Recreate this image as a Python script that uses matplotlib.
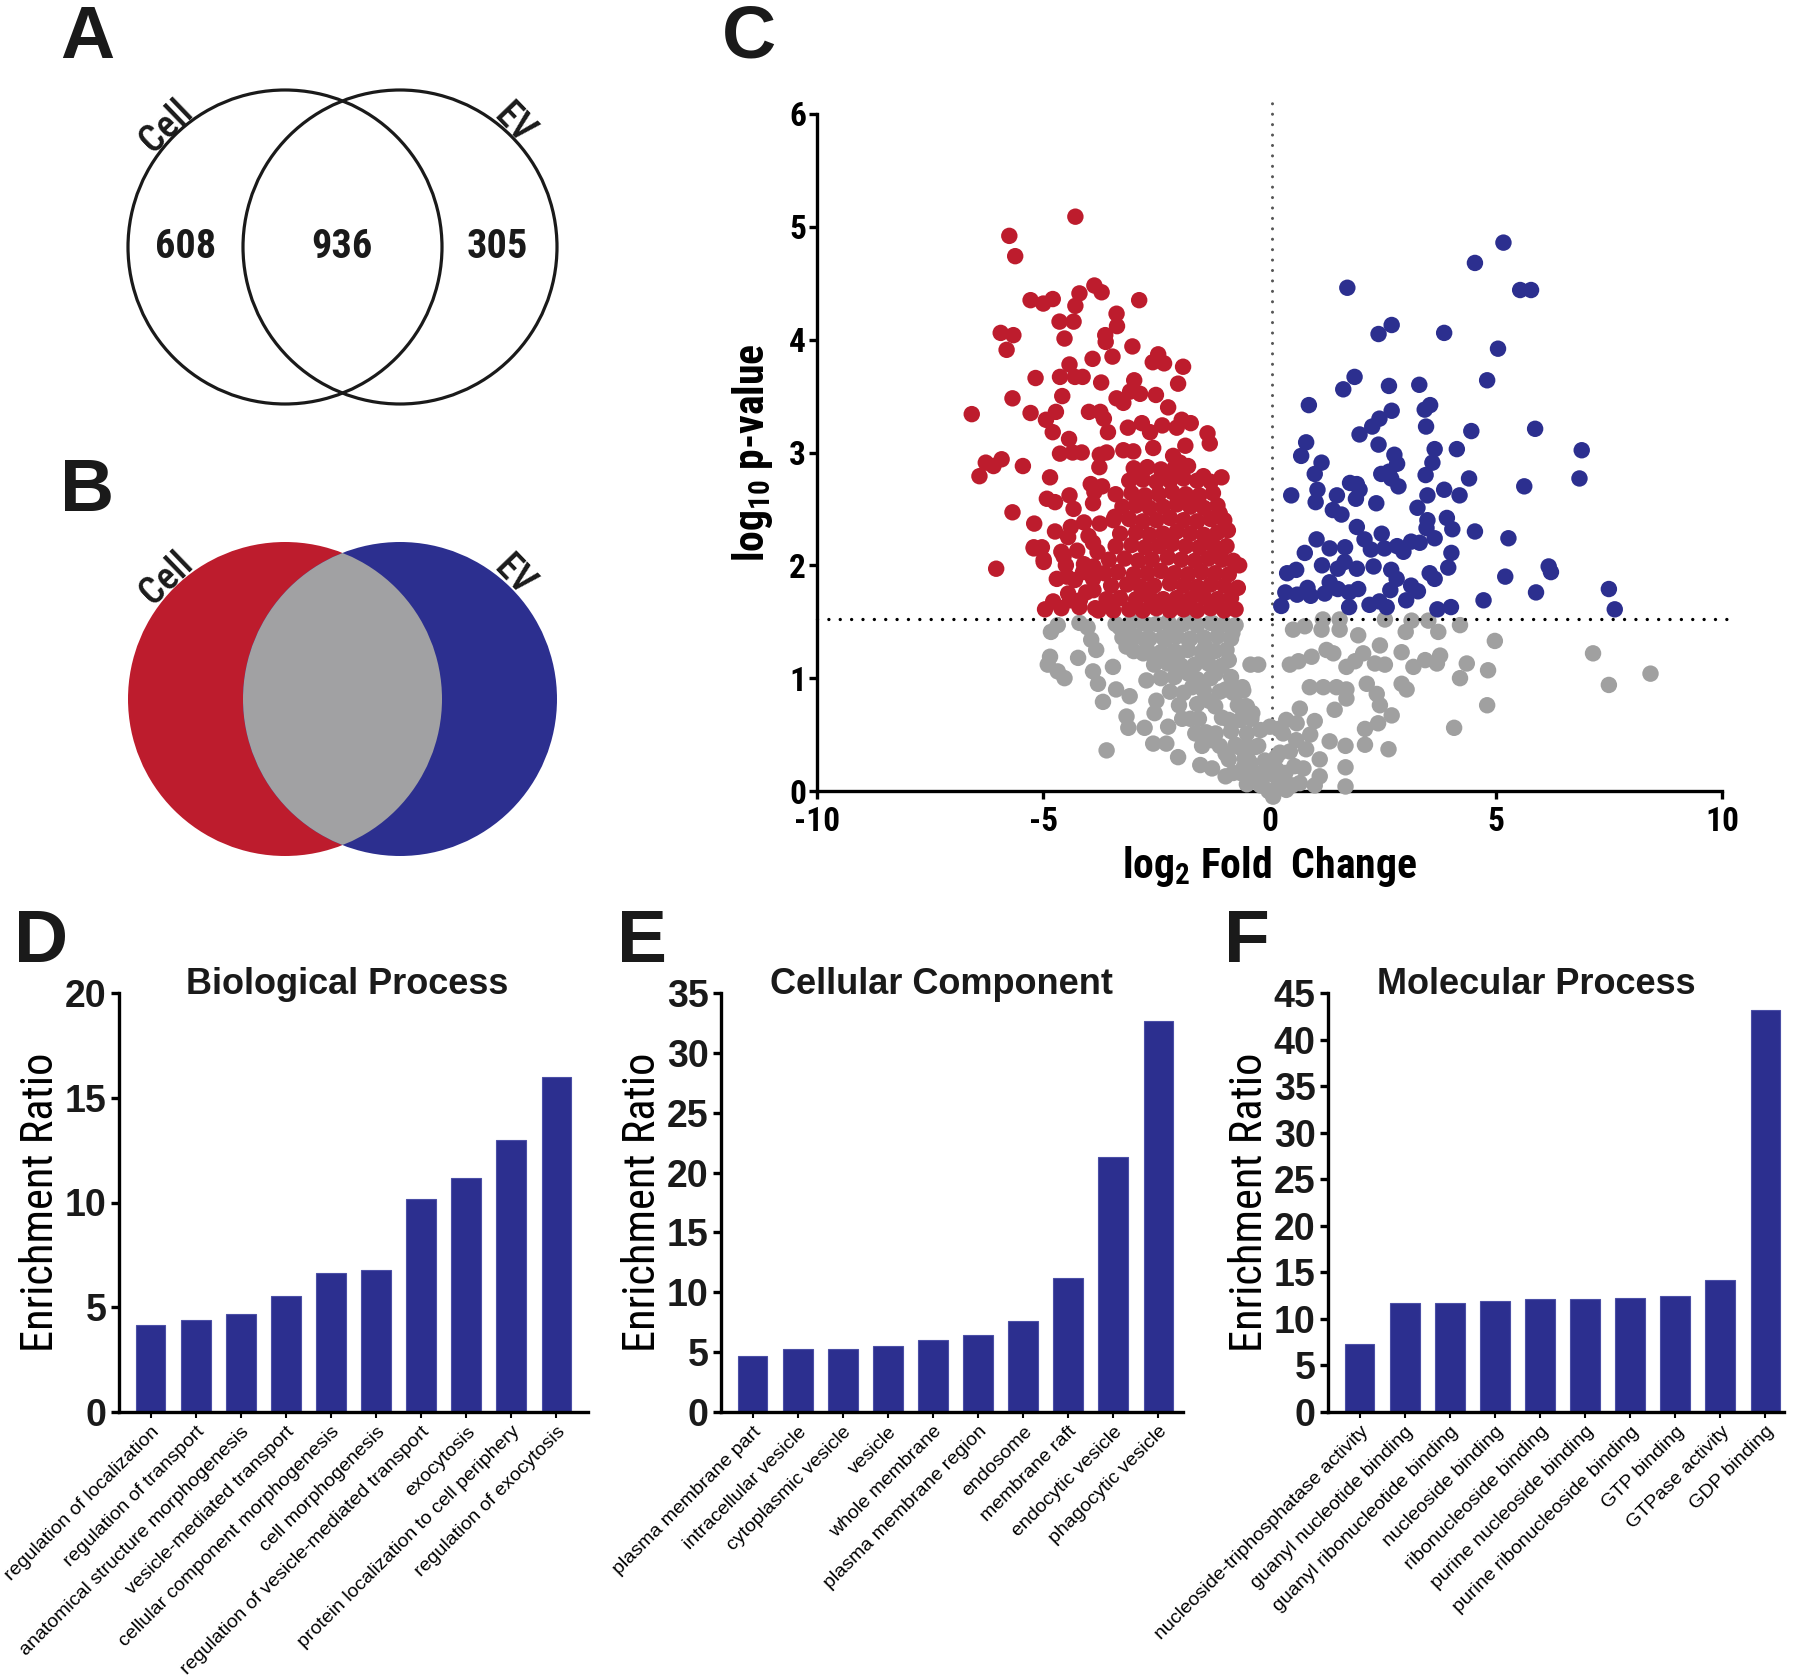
import matplotlib
matplotlib.use("Agg")
import matplotlib.pyplot as plt
from matplotlib import font_manager
from matplotlib.patches import Circle

# ---- fonts ----
names = {f.name for f in font_manager.fontManager.ttflist}
NARROW = 'Liberation Sans'
for cand in ['Liberation Sans Narrow', 'Roboto Condensed', 'Noto Sans Condensed',
             'Open Sans Condensed', 'Arial Narrow']:
    if cand in names:
        NARROW = cand
        break
SANS = 'Liberation Sans' if 'Liberation Sans' in names else 'DejaVu Sans'
plt.rcParams['font.family'] = [SANS, 'DejaVu Sans']
plt.rcParams['axes.unicode_minus'] = False

RED = '#BD1C2D'
BLUE = '#2C2F8F'
GREY = '#A1A1A3'
INK = '#1a1a1a'

# ---- data ----
venn_counts = [608, 936, 305]
venn_names = ['Cell', 'EV']

threshold = 1.52

red_points = [
    (-4.29, 5.09), (-5.75, 4.92), (-5.62, 4.74), (-5.28, 4.35), (-5.00, 4.32), (-4.79, 4.36),
    (-4.20, 4.41), (-4.29, 4.30), (-3.87, 4.48), (-3.71, 4.42), (-2.88, 4.35), (-4.64, 4.16),
    (-4.33, 4.16), (-3.38, 4.23), (-3.37, 4.12), (-5.94, 4.06), (-5.66, 4.04), (-5.81, 3.91),
    (-4.53, 4.01), (-3.63, 4.04), (-3.62, 3.98), (-3.91, 3.83), (-3.47, 3.85), (-3.03, 3.94),
    (-2.46, 3.87), (-2.58, 3.80), (-2.33, 3.79), (-1.91, 3.76), (-2.02, 3.61), (-5.17, 3.66),
    (-4.63, 3.67), (-4.42, 3.78), (-4.30, 3.67), (-4.13, 3.67), (-3.72, 3.62), (-2.99, 3.64),
    (-3.08, 3.54), (-2.86, 3.52), (-2.51, 3.51), (-3.38, 3.48), (-3.23, 3.44), (-2.24, 3.40),
    (-4.58, 3.50), (-5.68, 3.48), (-6.58, 3.34), (-5.28, 3.35), (-4.72, 3.36), (-4.94, 3.29),
    (-4.79, 3.18), (-3.99, 3.36), (-3.74, 3.36), (-3.66, 3.30), (-3.57, 3.18), (-3.13, 3.22),
    (-2.82, 3.26), (-2.64, 3.18), (-2.37, 3.24), (-2.05, 3.22), (-1.94, 3.29), (-1.74, 3.26),
    (-1.37, 3.17), (-1.32, 3.08), (-1.86, 3.06), (-4.43, 3.12), (-4.63, 2.99), (-4.35, 3.00),
    (-4.15, 3.00), (-3.75, 2.98), (-3.60, 3.00), (-6.27, 2.91), (-6.10, 2.88), (-5.92, 2.94),
    (-6.41, 2.79), (-5.45, 2.88), (-4.85, 2.78), (-3.76, 2.87), (-3.23, 3.02), (-3.01, 3.01),
    (-2.57, 3.04), (-2.13, 2.97), (-1.98, 2.91), (-1.06, 2.78), (-1.46, 2.79),
    (-5.68, 2.47), (-5.20, 2.37), (-4.92, 2.59), (-4.74, 2.56), (-4.42, 2.62), (-4.33, 2.50),
    (-4.74, 2.30), (-4.39, 2.34), (-5.21, 2.16), (-5.03, 2.16), (-4.99, 2.03), (-6.04, 1.97),
    (-3.90, 2.20), (-3.87, 2.65), (-3.42, 2.43), (-1.10, 2.46), (-0.92, 2.31), (-0.67, 2.00),
    (-1.10, 2.10), (-4.96, 1.61), (-4.78, 1.68), (-4.41, 1.69), (-4.19, 1.69), (-3.78, 1.60),
    (-3.60, 1.66), (-3.89, 1.78), (-4.48, 1.90), (-4.12, 1.94), (-3.89, 1.99), (-4.55, 2.08),
    (-4.99, 2.05), (-5.21, 2.15),
    # dense core
    (-3.45, 1.60), (-3.10, 1.61), (-2.80, 1.60), (-2.50, 1.62), (-2.20, 1.60), (-1.90, 1.61),
    (-1.60, 1.60), (-1.30, 1.62), (-1.00, 1.60), (-0.75, 1.61),
    (-3.60, 1.70), (-3.30, 1.71), (-2.95, 1.70), (-2.65, 1.72), (-2.35, 1.70), (-2.05, 1.71),
    (-1.75, 1.70), (-1.45, 1.72), (-1.15, 1.70), (-0.85, 1.71),
    (-3.50, 1.82), (-3.15, 1.83), (-2.85, 1.81), (-2.55, 1.82), (-2.20, 1.84), (-1.90, 1.82),
    (-1.60, 1.81), (-1.30, 1.83), (-1.00, 1.82), (-0.70, 1.80),
    (-3.65, 1.93), (-3.35, 1.94), (-3.00, 1.92), (-2.70, 1.93), (-2.40, 1.95), (-2.10, 1.93),
    (-1.80, 1.92), (-1.50, 1.94), (-1.20, 1.93), (-0.90, 1.92),
    (-3.55, 2.05), (-3.20, 2.06), (-2.90, 2.04), (-2.60, 2.05), (-2.25, 2.07), (-1.95, 2.05),
    (-1.65, 2.04), (-1.35, 2.06), (-1.05, 2.05), (-0.80, 2.04),
    (-3.40, 2.17), (-3.05, 2.18), (-2.75, 2.16), (-2.45, 2.17), (-2.15, 2.19), (-1.85, 2.17),
    (-1.55, 2.16), (-1.25, 2.18), (-0.95, 2.17),
    (-3.30, 2.28), (-2.95, 2.29), (-2.65, 2.27), (-2.35, 2.28), (-2.05, 2.30), (-1.75, 2.28),
    (-1.45, 2.27), (-1.15, 2.29),
    (-3.45, 2.40), (-3.10, 2.41), (-2.80, 2.39), (-2.50, 2.40), (-2.20, 2.42), (-1.90, 2.40),
    (-1.60, 2.39), (-1.30, 2.41), (-1.00, 2.40),
    (-3.25, 2.52), (-2.95, 2.53), (-2.65, 2.51), (-2.35, 2.52), (-2.05, 2.54), (-1.75, 2.52),
    (-1.45, 2.51), (-1.15, 2.53),
    (-3.40, 2.63), (-3.05, 2.64), (-2.75, 2.62), (-2.45, 2.63), (-2.15, 2.65), (-1.85, 2.63),
    (-1.55, 2.62), (-1.25, 2.64),
    (-3.10, 2.75), (-2.80, 2.76), (-2.50, 2.74), (-2.20, 2.75), (-1.90, 2.77), (-1.60, 2.75),
    (-1.30, 2.74),
    (-3.00, 2.86), (-2.70, 2.87), (-2.40, 2.85), (-2.10, 2.86), (-1.80, 2.88),
    (-4.60, 1.62), (-4.20, 1.63), (-3.85, 1.62), (-4.45, 1.75), (-4.05, 1.76),
    (-4.70, 1.88), (-4.30, 1.87), (-3.90, 1.88), (-4.50, 2.00), (-4.10, 2.01),
    (-4.60, 2.12), (-4.25, 2.13), (-3.80, 2.12), (-4.45, 2.25), (-4.00, 2.26),
    (-4.10, 2.38), (-3.75, 2.37), (-3.90, 2.55), (-3.70, 2.70), (-3.95, 2.72),
]

blue_points = [
    (5.17, 4.86), (4.54, 4.68), (1.72, 4.46), (5.54, 4.44), (5.78, 4.44), (2.70, 4.13),
    (2.41, 4.05), (3.86, 4.06), (5.05, 3.92), (1.88, 3.67), (1.63, 3.56), (2.64, 3.59),
    (3.31, 3.60), (4.81, 3.64), (0.87, 3.42), (2.70, 3.37), (2.43, 3.30), (3.55, 3.42),
    (3.43, 3.38), (2.27, 3.23), (1.99, 3.16), (3.46, 3.23), (4.46, 3.19), (5.87, 3.21),
    (6.90, 3.02), (0.81, 3.09), (0.70, 2.97), (1.15, 2.91), (2.41, 3.07), (2.76, 2.98),
    (2.82, 2.90), (3.65, 3.03), (3.60, 2.91), (4.14, 3.03), (1.00, 2.81), (2.47, 2.81),
    (2.64, 2.83), (3.45, 2.80), (4.41, 2.77), (6.85, 2.77), (1.06, 2.67), (1.78, 2.73),
    (1.93, 2.72), (1.99, 2.67), (2.69, 2.77), (2.85, 2.70), (0.48, 2.62), (1.49, 2.62),
    (3.49, 2.62), (3.86, 2.67), (4.20, 2.62), (5.63, 2.70), (1.02, 2.56), (1.91, 2.59),
    (2.36, 2.55), (1.40, 2.49), (1.59, 2.45), (3.27, 2.51), (3.49, 2.40), (3.92, 2.42),
    (1.93, 2.34), (3.47, 2.33), (4.04, 2.32), (4.54, 2.30), (5.28, 2.24), (1.04, 2.23),
    (2.10, 2.23), (2.48, 2.28), (3.65, 2.24), (1.33, 2.15), (1.67, 2.16), (2.24, 2.14),
    (2.54, 2.15), (2.82, 2.17), (2.96, 2.12), (3.13, 2.21), (3.32, 2.20), (0.78, 2.11),
    (4.02, 2.11), (0.39, 1.93), (0.59, 1.96), (1.16, 2.00), (1.51, 1.97), (1.66, 2.03),
    (1.93, 1.97), (2.30, 1.99), (2.69, 1.96), (2.81, 1.88), (3.54, 1.93), (3.65, 1.88),
    (3.95, 1.98), (5.21, 1.90), (6.17, 1.99), (6.22, 1.94), (0.35, 1.76), (0.61, 1.74),
    (0.84, 1.80), (0.91, 1.73), (1.22, 1.75), (1.33, 1.85), (1.51, 1.79), (1.76, 1.76),
    (1.96, 1.79), (2.67, 1.78), (3.13, 1.82), (3.28, 1.77), (3.02, 1.69), (5.89, 1.76),
    (7.50, 1.79), (0.26, 1.64), (1.76, 1.63), (2.21, 1.65), (2.43, 1.68), (2.59, 1.63),
    (3.71, 1.61), (4.01, 1.63), (4.73, 1.69), (7.63, 1.61),
]

grey_points = [
    (-4.83, 1.41), (-4.68, 1.47), (-4.85, 1.19), (-4.90, 1.12), (-4.68, 1.06), (-4.53, 1.00),
    (-4.20, 1.49), (-4.02, 1.45), (-3.94, 1.34), (-3.83, 1.25), (-4.23, 1.18), (-3.90, 1.06),
    (-3.79, 0.95), (-3.68, 0.79), (-3.46, 1.10), (-3.39, 0.90), (-3.09, 0.84), (-3.16, 0.66),
    (-3.12, 0.56), (-3.60, 0.36), (-3.31, 1.45), (-3.08, 1.34), (-3.16, 1.28), (-2.79, 1.22),
    (-2.72, 0.98), (-2.50, 0.80), (-2.54, 0.69), (-2.76, 0.56), (-2.57, 0.42), (-2.28, 0.42),
    (-2.02, 0.30), (-2.24, 0.57), (-1.93, 0.64), (-1.56, 0.64), (-1.64, 0.51), (-1.49, 0.40),
    (-1.53, 0.23), (-1.27, 0.20), (-1.19, 0.51), (-0.97, 0.33), (-0.97, 0.13), (-0.68, 0.39),
    (-0.57, 0.21), (-0.38, 0.09), (-0.16, 0.05), (-0.02, 0.00), (-0.42, 1.12), (-0.20, 0.54),
    (-0.53, 0.75), (-0.68, 0.90), (-0.97, 0.90), (-1.34, 0.80), (-1.71, 0.92), (-2.08, 1.10),
    (-2.01, 1.22), (-2.31, 1.34), (-1.79, 1.34), (-1.42, 1.28), (-0.90, 1.16), (-0.82, 1.40),
    (-0.75, 1.47), (-1.27, 1.49), (-1.71, 1.52), (-2.24, 1.50), (-2.68, 1.47), (-3.05, 1.50),
    (-2.75, 1.34), (-2.53, 1.16), (-1.79, 1.04), (-1.19, 1.04), (-0.60, 0.92), (-0.38, 0.69),
    (-0.90, 0.63), (-1.27, 0.45), (-0.31, 0.39), (-0.46, 0.27), (-0.64, 0.16), (-0.16, 0.16),
    (-3.40, 1.48), (-3.10, 1.47), (-2.80, 1.49), (-2.50, 1.48), (-2.20, 1.46), (-1.90, 1.48),
    (-1.60, 1.47), (-1.30, 1.49), (-1.00, 1.48), (-3.25, 1.36), (-2.95, 1.37), (-2.65, 1.35),
    (-2.35, 1.36), (-2.05, 1.37), (-1.75, 1.35), (-1.45, 1.36), (-1.15, 1.37), (-0.85, 1.35),
    (-3.00, 1.24), (-2.70, 1.25), (-2.40, 1.23), (-2.10, 1.24), (-1.80, 1.25), (-1.50, 1.23),
    (-1.20, 1.24), (-0.95, 1.25), (-2.55, 1.12), (-2.25, 1.13), (-1.95, 1.11), (-1.65, 1.12),
    (-1.35, 1.13), (-1.05, 1.11), (-2.40, 1.00), (-2.10, 1.01), (-1.60, 0.99), (-1.30, 1.00),
    (-0.85, 1.01), (-2.20, 0.88), (-1.90, 0.87), (-1.45, 0.89), (-1.10, 0.88), (-0.80, 0.87),
    (-2.00, 0.76), (-1.60, 0.77), (-1.20, 0.75), (-0.70, 0.76), (-1.75, 0.64), (-1.05, 0.65),
    (-0.65, 0.63), (-0.40, 0.64), (-1.40, 0.52), (-0.85, 0.53), (-0.50, 0.51), (-1.10, 0.40),
    (-0.75, 0.41), (-0.25, 0.40), (-0.90, 0.28), (-0.55, 0.29), (-0.10, 0.27), (-0.80, 0.16),
    (-0.35, 0.17), (0.05, 0.15), (0.35, 0.16), (-0.50, 0.06), (-0.20, 0.05), (0.20, 0.06),
    (0.50, 0.05),
    (-0.25, 1.12), (0.52, 1.43), (0.78, 1.46), (1.18, 1.52), (1.55, 1.52), (1.55, 1.43),
    (1.15, 1.43), (1.96, 1.38), (2.55, 1.52), (2.44, 1.29), (3.01, 1.41), (3.14, 1.51),
    (3.51, 1.51), (3.73, 1.41), (4.21, 1.47), (4.98, 1.33), (7.15, 1.22), (7.50, 0.94),
    (8.42, 1.04), (0.45, 1.12), (0.64, 1.15), (0.93, 1.19), (1.26, 1.25), (1.41, 1.22),
    (1.70, 1.10), (1.89, 1.15), (2.07, 1.22), (2.33, 1.13), (2.55, 1.12), (2.92, 1.23),
    (3.18, 1.10), (3.44, 1.16), (3.70, 1.13), (3.77, 1.20), (4.36, 1.13), (4.21, 1.00),
    (4.83, 1.07), (4.81, 0.76), (4.08, 0.56), (0.89, 0.92), (1.19, 0.92), (1.48, 0.92),
    (1.70, 0.90), (1.70, 0.82), (2.15, 0.95), (2.37, 0.86), (2.44, 0.76), (2.70, 0.67),
    (2.40, 0.60), (2.11, 0.55), (2.11, 0.41), (2.63, 0.37), (2.92, 0.95), (3.03, 0.90),
    (1.44, 0.72), (0.67, 0.73), (1.00, 0.62), (1.33, 0.44), (1.68, 0.40), (1.68, 0.21),
    (1.68, 0.04), (0.37, 0.63), (0.30, 0.51), (0.59, 0.45), (0.81, 0.37), (1.11, 0.28),
    (1.11, 0.13), (0.67, 0.07), (0.37, 0.01), (0.23, 0.34), (0.16, 0.19), (0.01, 0.57),
    (-0.36, 0.10), (-0.50, 0.39), (-0.43, 0.25), (-0.58, 0.89), (-0.50, 0.75), (0.08, -0.05),
    (0.20, 0.55), (0.45, 0.35), (0.55, 0.22), (0.30, 0.10), (0.75, 0.20), (0.90, 0.50),
    (0.60, 0.60), (1.00, 0.05), (0.15, 0.30),
]

bp_terms = ["regulation of localization", "regulation of transport",
            "anatomical structure morphogenesis", "vesicle-mediated transport",
            "cellular component morphogenesis", "cell morphogenesis",
            "regulation of vesicle-mediated transport", "exocytosis",
            "protein localization to cell periphery", "regulation of exocytosis"]
bp_ratio = [4.15, 4.37, 4.67, 5.52, 6.64, 6.78, 10.16, 11.17, 12.96, 15.99]

cc_terms = ["plasma membrane part", "intracellular vesicle", "cytoplasmic vesicle",
            "vesicle", "whole membrane", "plasma membrane region", "endosome",
            "membrane raft", "endocytic vesicle", "phagocytic vesicle"]
cc_ratio = [4.69, 5.23, 5.27, 5.52, 6.01, 6.42, 7.62, 11.16, 21.33, 32.65]

mf_terms = ["nucleoside-triphosphatase activity", "guanyl nucleotide binding",
            "guanyl ribonucleotide binding", "nucleoside binding",
            "ribonucleoside binding", "purine nucleoside binding",
            "purine ribonucleoside binding", "GTP binding", "GTPase activity",
            "GDP binding"]
mf_ratio = [7.31, 11.70, 11.75, 11.91, 12.18, 12.18, 12.28, 12.44, 14.13, 43.2]

W, H = 1800, 1675
fig = plt.figure(figsize=(18, 16.75), dpi=100)

# overlay axes in pixel coordinates for venns, titles and panel letters
ov = fig.add_axes([0, 0, 1, 1])
ov.set_xlim(0, W)
ov.set_ylim(H, 0)
ov.axis('off')
ov.patch.set_alpha(0)
ov.set_zorder(5)

letter_kw = dict(fontsize=54, fontweight='bold', color=INK)
for lab, x, y in [('A', 60, 58), ('B', 60, 511), ('C', 722, 58), ('D', 14, 962),
                  ('E', 617, 962), ('F', 1224, 962)]:
    ov.text(x, y, lab, ha='left', va='baseline', **letter_kw)

R = 157
cxL, cxR = 285, 400


def venn_labels(cy):
    ov.text(166, cy - 121, venn_names[0], rotation=44, ha='center', va='center',
            fontsize=27, family=NARROW, fontweight='medium', color=INK)
    ov.text(514, cy - 123, venn_names[1], rotation=-46, ha='center', va='center',
            fontsize=27, family=NARROW, fontweight='medium', color=INK)


# panel A
cyA = 247
for cx in (cxL, cxR):
    ov.add_patch(Circle((cx, cyA), R, fill=False, lw=2.3, ec=INK))
for cnt, x in zip(venn_counts, [186, 342, 497]):
    ov.text(x, cyA, str(cnt), ha='center', va='center', fontsize=29,
            family=NARROW, fontweight='bold', color=INK)
venn_labels(cyA)

# panel B
cyB = 699
left_c = Circle((cxL, cyB), R, fc=RED, ec='none')
right_c = Circle((cxR, cyB), R, fc=BLUE, ec='none')
ov.add_patch(left_c)
ov.add_patch(right_c)
mid = Circle((cxR, cyB), R, fc=GREY, ec='none')
ov.add_patch(mid)
mid.set_clip_path(left_c)
venn_labels(cyB)

# ---- panel C: volcano ----
axc = fig.add_axes([817 / W, 1 - 791 / H, 905 / W, 677 / H])
axc.patch.set_visible(False)
for pts, col in [(grey_points, '#A0A0A0'), (red_points, RED), (blue_points, BLUE)]:
    xs = [p[0] for p in pts]
    ys = [p[1] for p in pts]
    axc.scatter(xs, ys, s=140, color=col, edgecolors='none', clip_on=False, zorder=3)
axc.plot([-10, 10.2], [threshold, threshold], color='black', lw=2.4,
         ls=(0, (0.01, 3.4)), dash_capstyle='round', clip_on=False, zorder=4)
axc.plot([0.05, 0.05], [0, 6.1], color='#555555', lw=2.2,
         ls=(0, (0.01, 3.4)), dash_capstyle='round', clip_on=False, zorder=2)
axc.set_xlim(-10, 10)
axc.set_ylim(0, 6)
axc.set_xticks([-10, -5, 0, 5, 10])
axc.set_yticks(range(7))
for s in ('top', 'right'):
    axc.spines[s].set_visible(False)
for s in ('left', 'bottom'):
    axc.spines[s].set_linewidth(2.4)
axc.tick_params(width=2.4, length=6, labelsize=24, colors='black')
axc.tick_params(axis='y', pad=2)
axc.tick_params(axis='x', pad=5)
for lab in axc.get_xticklabels() + axc.get_yticklabels():
    lab.set_family(NARROW)
    lab.set_fontweight('bold')
axc.set_xlabel(r'log$_{\mathregular{2}}$ Fold  Change', fontsize=30, family=NARROW,
               fontweight='bold', labelpad=4)
axc.set_ylabel(r'log$_{\mathregular{10}}$ p-value', fontsize=30, family=NARROW,
               fontweight='bold', labelpad=10)


# ---- panels D, E, F ----
def bar_panel(left_px, xmax, terms, vals, ymax, step, title, title_x):
    ax = fig.add_axes([left_px / W, 1 - 1412 / H, (xmax + 0.7) * 45.1 / W, 419 / H])
    ax.patch.set_visible(False)
    ax.bar(range(len(vals)), vals, width=0.66, color=BLUE, edgecolor='#4b4fa6', linewidth=0.8)
    ax.set_xlim(-0.7, xmax)
    ax.set_ylim(0, ymax)
    ax.set_yticks(range(0, ymax + 1, step))
    ax.set_xticks(range(len(vals)))
    ax.set_xticklabels(terms, rotation=45, ha='right', rotation_mode='anchor', fontsize=14)
    for s in ('top', 'right'):
        ax.spines[s].set_visible(False)
    for s in ('left', 'bottom'):
        ax.spines[s].set_linewidth(2.4)
    ax.tick_params(axis='y', width=2.4, length=6, labelsize=27, pad=3)
    ax.tick_params(axis='x', width=1.5, length=4, pad=4)
    for lab in ax.get_yticklabels():
        lab.set_fontweight('bold')
        lab.set_color(INK)
    ax.set_ylabel('Enrichment Ratio', fontsize=32, family=NARROW, labelpad=2)
    ov.text(title_x, 984, title, ha='center', va='center', fontsize=26, fontweight='bold',
            color=INK)
    return ax


bar_panel(119, 9.7, bp_terms, bp_ratio, 20, 5, 'Biological Process', 347)
bar_panel(721, 9.55, cc_terms, cc_ratio, 35, 5, 'Cellular Component', 941)
bar_panel(1328, 9.4, mf_terms, mf_ratio, 45, 5, 'Molecular Process', 1536)

fig.savefig('out.png', dpi=100)
